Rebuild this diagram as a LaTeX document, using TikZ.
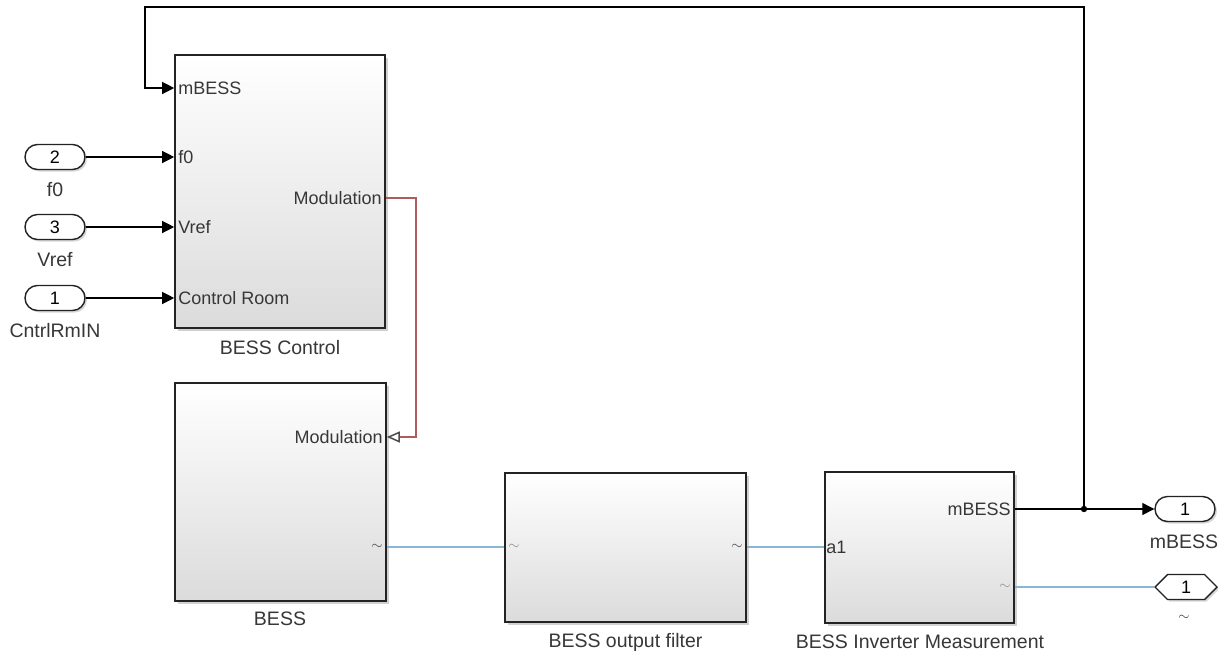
\documentclass[tikz,border=0pt]{standalone}
\usepackage{fontspec}
\setmainfont{Liberation Sans}
\usetikzlibrary{arrows.meta,shapes.symbols,shadows,positioning}
\definecolor{modred}{RGB}{176,92,92}
\definecolor{physblue}{RGB}{135,182,215}
\definecolor{blockline}{RGB}{35,35,35}
\definecolor{porttext}{RGB}{55,55,55}

\tikzset{
  block/.style={draw=blockline, line width=1.6pt, shading=axis, top color=white,
    middle color=white, bottom color=black!14, inner sep=0pt,
    drop shadow={shadow xshift=2.5pt, shadow yshift=-2.5pt, fill=black!40, opacity=0.45}},
  inport/.style={draw=blockline, line width=1.4pt, fill=white, rounded corners=12.5pt,
    minimum width=60pt, minimum height=25pt, inner sep=0pt,
    drop shadow={shadow xshift=2pt, shadow yshift=-2pt, fill=black!40, opacity=0.4}},
  hexport/.style={draw=blockline, line width=1.4pt, fill=white, signal, signal to=west and east,
    minimum width=62pt, minimum height=25pt, inner sep=0pt,
    drop shadow={shadow xshift=2pt, shadow yshift=-2pt, fill=black!40, opacity=0.4}},
  inlbl/.style={anchor=west, inner sep=4pt, text=porttext},
  outlbl/.style={anchor=east, inner sep=4pt, text=porttext},
  tilde/.style={inner sep=4pt, text=black!75, font=\fontsize{15}{16}\selectfont},
  blklbl/.style={text=porttext, font=\fontsize{19.5}{21}\selectfont},
  sig/.style={draw=black, line width=1.2pt, -{Triangle[length=12pt,width=12pt]}},
  modline/.style={draw=modred, line width=1.5pt, -{Triangle[open,length=13pt,width=11pt,color=black!70,fill=white]}},
  phys/.style={draw=physblue, line width=1.5pt}
}

\begin{document}
\begin{tikzpicture}[x=1pt, y=-1pt, font=\fontsize{18}{20}\selectfont]
  \useasboundingbox (0,0) rectangle (1218,654);

  % blocks
  \node[block, minimum width=210pt, minimum height=273pt] (ctl) at (280,191.5) {};
  \node[block, minimum width=211pt, minimum height=218pt] (bess) at (280.5,492) {};
  \node[block, minimum width=241pt, minimum height=149pt] (filt) at (625.5,547.5) {};
  \node[block, minimum width=189pt, minimum height=151pt] (meas) at (919.5,547.5) {};

  \node[blklbl] (ctllbl) at (280,348) {BESS Control};
  \node[blklbl] (besslbl) at (280,619) {BESS};
  \node[blklbl] (filtlbl) at (625.5,642) {BESS output filter};
  \node[blklbl] (measlbl) at (920,642) {BESS Inverter Measurement};

  % ports of BESS Control
  \node[inlbl] (pm) at (ctl.west |- 0,88) {mBESS};
  \node[inlbl] (pf0) at (ctl.west |- 0,157) {f0};
  \node[inlbl] (pvref) at (ctl.west |- 0,227) {Vref};
  \node[inlbl] (pcr) at (ctl.west |- 0,298) {Control Room};
  \node[outlbl] (pmodout) at (ctl.east |- 0,198) {Modulation};

  % ports of BESS
  \node[outlbl] (pmodin) at (bess.east |- 0,437) {Modulation};
  \node[tilde, anchor=east] (pbess) at (bess.east |- 0,547) {$\sim$};

  % ports of the filter
  \node[tilde, anchor=west, text=black!45] (pfin) at (filt.west |- 0,547) {$\sim$};
  \node[tilde, anchor=east] (pfout) at (filt.east |- 0,547) {$\sim$};

  % ports of the measurement
  \node[inlbl, inner sep=2pt] (pa1) at (meas.west |- 0,547) {a1};
  \node[outlbl] (pmout) at (meas.east |- 0,509) {mBESS};
  \node[tilde, anchor=east, text=black!45] (pmac) at (meas.east |- 0,587) {$\sim$};

  % inports and outports
  \node[inport] (in2) at (55,157) {2};
  \node[inport] (in3) at (55,227) {3};
  \node[inport] (in1) at (55,298) {1};
  \node[blklbl] (in2lbl) at (55,190) {f0};
  \node[blklbl] (in3lbl) at (55,260) {Vref};
  \node[blklbl] (in1lbl) at (55,331) {CntrlRmIN};

  \node[inport] (outm) at (1185,509) {1};
  \node[hexport] (outa) at (1186,587) {1};
  \node[blklbl] (outmlbl) at (1184,542) {mBESS};
  \node[tilde, text=porttext] (outalbl) at (1184,618) {$\sim$};

  % signals
  \draw[sig] (in2) -- (pf0.west);
  \draw[sig] (in3) -- (pvref.west);
  \draw[sig] (in1) -- (pcr.west);

  \coordinate (jn) at (1084,509);
  \coordinate (fbr) at (1084,7);
  \coordinate (fbl) at (145,7);
  \draw[sig] (pmout.east) -- (outm.west);
  \draw[sig] (jn) -- (fbr) -- (fbl) |- (pm.west);
  \fill (jn) circle (3.2pt);

  \draw[modline] (pmodout.east) -- ++(30,0) |- (pmodin.east);

  % physical connections
  \draw[phys] (pbess.east) -- (pfin.west);
  \draw[phys] (pfout.east) -- (pa1.west);
  \draw[phys] (pmac.east) -- (outa.west);
\end{tikzpicture}
\end{document}
